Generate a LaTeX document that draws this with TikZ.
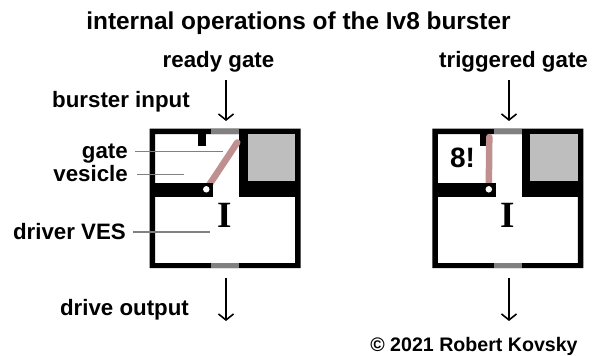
\documentclass[tikz,border=0pt]{standalone}
\usepackage{fontspec}
\setmainfont{Liberation Sans}
\newfontfamily\serifI{Liberation Serif}
\usetikzlibrary{arrows.meta}
\definecolor{gatecol}{RGB}{128,128,128}
\definecolor{fillgray}{RGB}{190,190,190}
\definecolor{vescol}{RGB}{192,144,144}
\tikzset{
  x=1pt,y=-1pt,
  lab/.style={inner sep=0pt,font=\fontsize{22.3}{24}\selectfont\bfseries,anchor=base east},
  lab2/.style={inner sep=0pt,font=\fontsize{22.3}{24}\selectfont\bfseries,anchor=base},
  flow/.style={line width=1.4pt,-{Straight Barb[length=6pt,width=15pt,line width=1.6pt]}},
  leader/.style={draw=gatecol,line width=1.3pt},
  membrane/.style={draw=vescol,line width=6.5pt,line cap=round},
  hinge/.style={circle,fill=white,draw=none,minimum size=6.5pt,inner sep=0pt},
}
\newcommand{\burster}[1]{%
  \begin{scope}[shift={(#1,0)}]
    \fill[black,even odd rule] (0,128.5) rectangle (151,268) (5.5,134) rectangle (145.5,263);
    \fill[gatecol] (61.3,128.5) rectangle (89.3,134);
    \fill[gatecol] (61.3,263) rectangle (89.3,268);
    \fill[black] (48,134) rectangle (56,146);
    \fill[black] (5.5,182.7) rectangle (63.3,196.7);
    \fill[black] (89.3,134) rectangle (145.5,196.7);
    \fill[fillgray] (98,134) rectangle (145.5,181);
    \node[inner sep=0pt,font=\fontsize{37}{37}\selectfont\serifI\bfseries] at (75.5,215) {I};
  \end{scope}%
}
\begin{document}
\begin{tikzpicture}
\useasboundingbox (0,0) rectangle (597,356);
\fill[white] (0,0) rectangle (597,356);
\burster{149.5}
\burster{432.3}
\coordinate (hingeA) at (206.3,189.3);
\coordinate (tipA) at (237.3,142.5);
\draw[membrane] (hingeA) -- (tipA);
\fill[black] (198,182.7) rectangle (212.8,196.7);
\node[hinge] at (hingeA) {};
\coordinate (hingeB) at (488.8,189.3);
\coordinate (tipB) at (489.3,137);
\draw[membrane] (hingeB) -- (tipB);
\fill[black] (480,182.7) rectangle (495.6,196.7);
\node[hinge] at (hingeB) {};
\node[inner sep=0pt,font=\fontsize{28}{28}\selectfont\bfseries] (eight) at (462.5,158) {8!};
\node[inner sep=0pt,anchor=base,font=\fontsize{24.4}{26}\selectfont\bfseries] (title) at (298.5,29) {internal operations of the Iv8 burster};
\node[lab2] (ready) at (218.5,67.5) {ready gate};
\node[lab2] (trig) at (513.5,67.5) {triggered gate};
\node[lab2] (input) at (121,107) {burster input};
\node[lab] (gate) at (128,158) {gate};
\node[lab] (vesicle) at (128,181) {vesicle};
\node[lab] (driver) at (126,239) {driver VES};
\node[lab2] (out) at (124.5,315) {drive output};
\node[inner sep=0pt,anchor=base,font=\fontsize{19.6}{22}\selectfont\bfseries] (copy) at (474,351) {© 2021 Robert Kovsky};
\coordinate (a1s) at (226,80); \coordinate (a1e) at (226,121);
\coordinate (a2s) at (226,278); \coordinate (a2e) at (226,321);
\coordinate (a3s) at (509,80); \coordinate (a3e) at (509,121);
\coordinate (a4s) at (509,278); \coordinate (a4e) at (509,321);
\draw[flow] (a1s) -- (a1e);
\draw[flow] (a2s) -- (a2e);
\draw[flow] (a3s) -- (a3e);
\draw[flow] (a4s) -- (a4e);
\coordinate (g1) at (135,151.7); \coordinate (g2) at (223,151.7);
\coordinate (v1) at (137,174.5); \coordinate (v2) at (184,174.5);
\coordinate (d1) at (133,232); \coordinate (d2) at (210,232);
\draw[leader] (g1) -- (g2);
\draw[leader] (v1) -- (v2);
\draw[leader] (d1) -- (d2);
\end{tikzpicture}
\end{document}
